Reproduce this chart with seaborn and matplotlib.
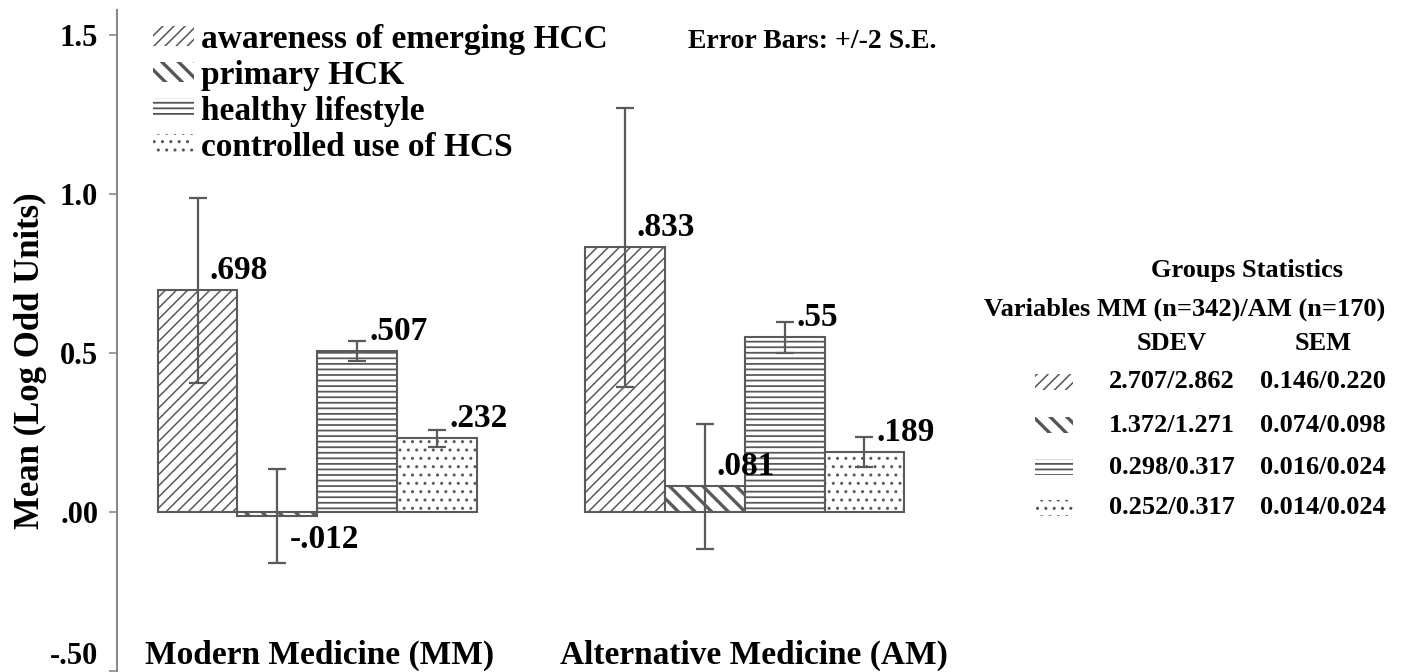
import numpy as np
import pandas as pd
import matplotlib
matplotlib.use('Agg')
import matplotlib.pyplot as plt
from matplotlib.patches import Patch, Rectangle
import seaborn as sns

# chart data
groups = ['Modern Medicine (MM)', 'Alternative Medicine (AM)']
variables = ['awareness of emerging HCC', 'primary HCK', 'healthy lifestyle', 'controlled use of HCS']
mm_means = [0.698, -0.012, 0.507, 0.232]
am_means = [0.833, 0.081, 0.550, 0.189]
mm_labels = ['.698', '-.012', '.507', '.232']
am_labels = ['.833', '.081', '.55', '.189']
mm_sem = [0.146, 0.074, 0.016, 0.014]
am_sem = [0.220, 0.098, 0.024, 0.024]
sdev_text = ['2.707/2.862', '1.372/1.271', '0.298/0.317', '0.252/0.317']
sem_text = ['0.146/0.220', '0.074/0.098', '0.016/0.024', '0.014/0.024']
ytick_vals = [-0.5, 0.0, 0.5, 1.0, 1.5]
ytick_labels = ['-.50', '.00', '0.5', '1.0', '1.5']

hatches = ['///', '\\\\', '---', '..']
hatch_lw = [1.1, 2.4, 1.3, 1.0]
edge = '#5a5a5a'

df = pd.DataFrame({
    'group': np.repeat(groups, len(variables)),
    'variable': variables * len(groups),
    'mean': mm_means + am_means,
    'sem': mm_sem + am_sem,
    'label': mm_labels + am_labels,
})

sns.set_style('white')
plt.rcParams['font.family'] = ['Liberation Serif', 'DejaVu Serif']
plt.rcParams['font.weight'] = 'bold'
plt.rcParams['text.color'] = 'black'
plt.rcParams['axes.labelcolor'] = 'black'
plt.rcParams['ytick.color'] = 'black'
plt.rcParams['hatch.linewidth'] = 1.1


def set_hlw(patch, lw):
    # per-patch hatch width where matplotlib supports it
    if hasattr(patch, 'set_hatch_linewidth'):
        patch.set_hatch_linewidth(lw)


W, H = 1403, 672
fig = plt.figure(figsize=(W / 100, H / 100), dpi=100)
ax = fig.add_axes([117 / W, 0.0, 828 / W, 662 / H])

sns.barplot(data=df, x='group', y='mean', hue='variable', order=groups,
            hue_order=variables, palette=['white'] * 4, edgecolor=edge,
            linewidth=1.5, width=0.748, errorbar=None, legend=False, ax=ax)

# hatches, error bars (+/- 2 SEM) and value labels
bar_conts = list(ax.containers)
for i, cont in enumerate(bar_conts):
    for j, bar in enumerate(cont):
        row = df[(df['group'] == groups[j]) & (df['variable'] == variables[i])].iloc[0]
        bar.set_hatch(hatches[i])
        set_hlw(bar, hatch_lw[i])
        xc = bar.get_x() + bar.get_width() / 2
        ax.errorbar(xc, row['mean'], yerr=2 * row['sem'], fmt='none',
                    ecolor=edge, elinewidth=1.6, capsize=6.5, capthick=1.6, zorder=5)
        if row['mean'] >= 0:
            ax.text(xc + 0.028, row['mean'] + 0.035, row['label'], ha='left',
                    va='baseline', fontsize=24, fontweight='bold')
        else:
            ax.text(xc + 0.028, row['mean'] - 0.025, row['label'], ha='left',
                    va='top', fontsize=24, fontweight='bold')

ax.set_xlim(-0.469, 1.469)
ax.set_ylim(-0.503, 1.58)
ax.set_yticks(ytick_vals, labels=ytick_labels)
ax.set_xticks([])
ax.set_xlabel('')
ax.set_ylabel('Mean (Log Odd Units)', fontsize=25, fontweight='bold')
ax.yaxis.set_label_coords(-0.085, 0.47)
ax.tick_params(axis='y', length=6, width=1.2, color='#8a8a8a', labelsize=22, pad=7.5, left=True)
for lbl in ax.get_yticklabels():
    lbl.set_fontweight('bold')
    if lbl.get_text() == '-.50':
        lbl.set_va('bottom')
for side in ['top', 'right', 'bottom']:
    ax.spines[side].set_visible(False)
ax.spines['left'].set_color('#8a8a8a')
ax.spines['left'].set_linewidth(1.5)

# group names along the bottom
group_x = [-0.403, 0.567]
for gx, g in zip(group_x, groups):
    ax.text(gx, -0.478, g, ha='left', va='baseline', fontsize=24, fontweight='bold')

# legend
handles = [Patch(facecolor='white', edgecolor='#555555', hatch=h, linewidth=0) for h in hatches]
leg = ax.legend(handles, variables, loc='upper left', bbox_to_anchor=(0.043, 0.979),
                frameon=False, handlelength=1.25, handleheight=0.55,
                handletextpad=0.2, labelspacing=0.15, borderaxespad=0, borderpad=0,
                prop={'weight': 'bold', 'size': 24})
for p, lw in zip(leg.get_patches(), hatch_lw):
    set_hlw(p, lw)

# overlay in pixel coordinates for the note and the statistics table
tab = fig.add_axes([0, 0, 1, 1], facecolor='none')
tab.set_xlim(0, W)
tab.set_ylim(H, 0)
tab.axis('off')
tab.text(688, 42, 'Error Bars: +/-2 S.E.', ha='left', va='center', fontsize=20, fontweight='bold')

tab.text(1247, 270, 'Groups Statistics', ha='center', va='center', fontsize=19, fontweight='bold')
tab.text(1185, 309, 'Variables MM (n=342)/AM (n=170)', ha='center', va='center', fontsize=19, fontweight='bold')
tab.text(1172, 343, 'SDEV', ha='center', va='center', fontsize=19, fontweight='bold')
tab.text(1323, 343, 'SEM', ha='center', va='center', fontsize=19, fontweight='bold')
row_y = [382, 425, 467, 508]
for ry, h, lw, sd, se in zip(row_y, hatches, hatch_lw, sdev_text, sem_text):
    r = tab.add_patch(Rectangle((1035, ry - 8), 38, 16, facecolor='white',
                                edgecolor='#555555', hatch=h, linewidth=0))
    set_hlw(r, lw)
    tab.text(1172, ry, sd, ha='center', va='center', fontsize=19, fontweight='bold')
    tab.text(1323, ry, se, ha='center', va='center', fontsize=19, fontweight='bold')

fig.savefig('out.png', dpi=100)
